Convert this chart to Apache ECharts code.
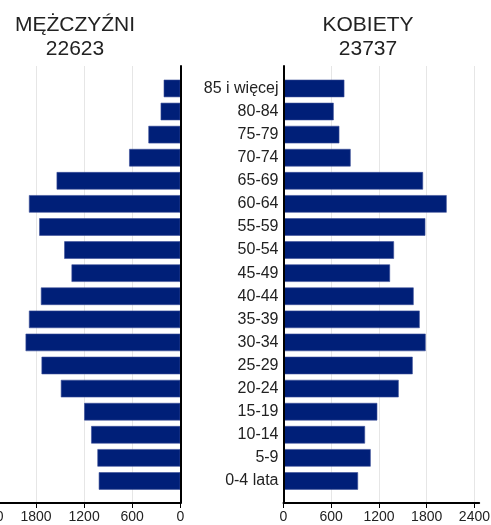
<!DOCTYPE html>
<html>
<head>
<meta charset="utf-8">
<script src="https://cdn.jsdelivr.net/npm/echarts@6/dist/echarts.min.js"></script>
<style>
  html, body { margin: 0; padding: 0; background: #fff; }
  #chart { width: 491px; height: 525px; }
</style>
</head>
<body>
<div id="chart"></div>
<script>
// Age groups, bottom to top
const ageGroups = ['0-4 lata', '5-9', '10-14', '15-19', '20-24', '25-29', '30-34', '35-39',
  '40-44', '45-49', '50-54', '55-59', '60-64', '65-69', '70-74', '75-79', '80-84', '85 i więcej'];

// Population per age group
const men = [1017, 1034, 1112, 1199, 1490, 1731, 1930, 1888, 1739, 1357, 1448, 1760, 1888, 1543, 638, 398, 245, 207];
const women = [937, 1096, 1025, 1179, 1448, 1624, 1787, 1712, 1636, 1339, 1389, 1783, 2051, 1754, 844, 702, 631, 765];

const menLabel = 'MĘŻCZYŹNI';
const womenLabel = 'KOBIETY';
const menTotal = 22623;
const womenTotal = 23737;

const tickValues = [0, 600, 1200, 1800, 2400];
const axisMax = 2460;

const FONT = '"Liberation Sans", Arial, sans-serif';
const BAR_COLOR = '#001f78';
const TEXT_COLOR = '#222';

const chart = echarts.init(document.getElementById('chart'), null, { renderer: 'canvas' });

function frameX(gridIndex, inverse) {
  return {
    gridIndex, type: 'value', min: 0, max: axisMax, inverse,
    axisLine: { show: true, onZero: false, lineStyle: { color: '#000', width: 2 } },
    axisTick: { show: true, length: 5, customValues: tickValues, lineStyle: { color: '#000', width: 1 } },
    axisLabel: {
      show: true, customValues: tickValues, fontSize: 14, color: TEXT_COLOR, margin: 7, fontFamily: FONT,
      formatter: v => String(v)
    },
    splitLine: { show: true, lineStyle: { color: '#e6e6e6', width: 1 } }
  };
}
function barX(gridIndex, inverse) {
  return { gridIndex, type: 'value', min: 0, max: axisMax, inverse, show: false, splitLine: { show: false } };
}
function frameY(gridIndex, position) {
  return {
    gridIndex, type: 'value', position, z: 10,
    axisLine: { show: true, onZero: false, lineStyle: { color: '#000', width: 2 } },
    axisTick: { show: false }, axisLabel: { show: false }, splitLine: { show: false }
  };
}

const option = {
  animation: false,
  textStyle: { fontFamily: FONT },
  grid: [
    { left: -16.9, right: 310.7, top: 66, bottom: 22, outerBoundsMode: 'none', containLabel: false },
    { left: -16.9, right: 310.7, top: 76.9, bottom: 32.5, outerBoundsMode: 'none', containLabel: false },
    { left: 283.5, right: 11.8, top: 66, bottom: 22, outerBoundsMode: 'none', containLabel: false },
    { left: 283.5, right: 11.8, top: 76.9, bottom: 32.5, outerBoundsMode: 'none', containLabel: false }
  ],
  xAxis: [frameX(0, true), barX(1, true), frameX(2, false), barX(3, false)],
  yAxis: [
    frameY(0, 'right'),
    { gridIndex: 1, type: 'category', data: ageGroups, show: false },
    frameY(2, 'left'),
    {
      gridIndex: 3, type: 'category', data: ageGroups,
      axisLine: { show: false }, axisTick: { show: false },
      axisLabel: { fontSize: 16, color: TEXT_COLOR, margin: 5, fontFamily: FONT }
    }
  ],
  series: [
    {
      name: menLabel, type: 'bar', xAxisIndex: 1, yAxisIndex: 1, data: men, barWidth: 17.5,
      itemStyle: { color: BAR_COLOR, borderColor: '#3a4f98', borderWidth: 0.6 }
    },
    {
      name: womenLabel, type: 'bar', xAxisIndex: 3, yAxisIndex: 3, data: women, barWidth: 17.5,
      itemStyle: { color: BAR_COLOR, borderColor: '#3a4f98', borderWidth: 0.6 }
    }
  ],
  graphic: [
    {
      type: 'text', x: 75, y: 37,
      style: { text: menLabel + '\n' + menTotal, fill: TEXT_COLOR, font: '21px ' + FONT,
        lineHeight: 24, align: 'center', verticalAlign: 'middle' }
    },
    {
      type: 'text', x: 368, y: 37,
      style: { text: womenLabel + '\n' + womenTotal, fill: TEXT_COLOR, font: '21px ' + FONT,
        lineHeight: 24, align: 'center', verticalAlign: 'middle' }
    }
  ]
};

chart.setOption(option);
</script>
</body>
</html>
